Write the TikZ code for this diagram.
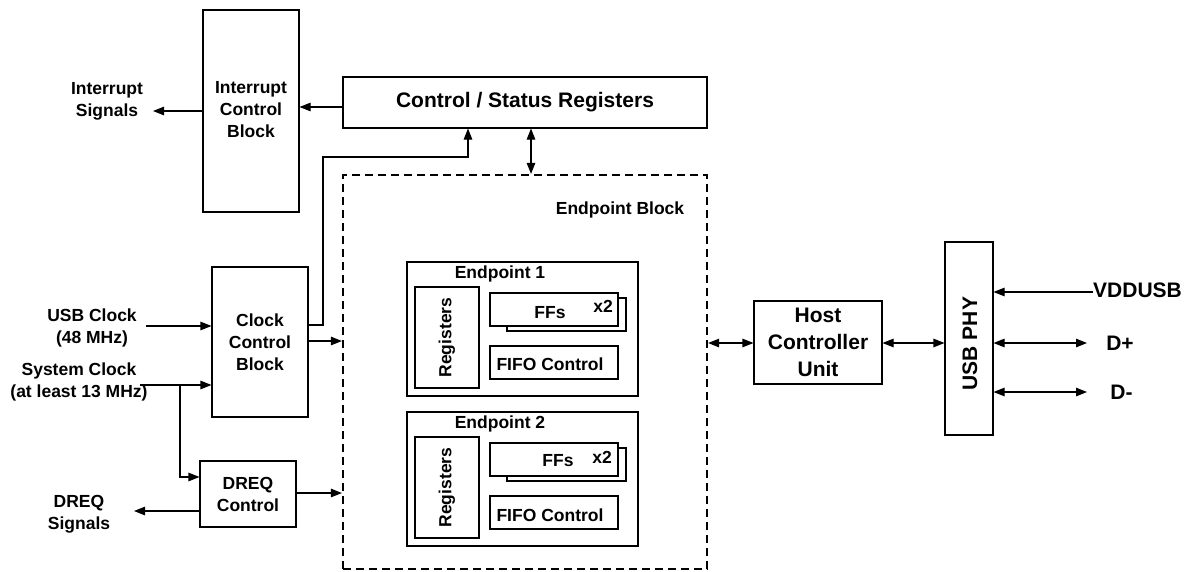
\documentclass[tikz,border=0pt]{standalone}
\usepackage{fontspec}
\setmainfont{Liberation Sans}
\usetikzlibrary{arrows.meta}
\begin{document}
\begin{tikzpicture}[x=1pt,y=-1pt,
  box/.style={draw, line width=1.1pt, inner sep=0pt, align=center},
  lbl/.style={font=\fontsize{17.5}{22}\selectfont\bfseries, align=center, inner sep=0pt},
  big/.style={font=\fontsize{21}{27}\selectfont\bfseries, align=center, inner sep=0pt},
  tip/.tip={Triangle[length=11pt,width=8.5pt]},
  arr/.style={line width=1.1pt, -tip},
  darr/.style={line width=1.1pt, tip-tip},
  ln/.style={line width=1.1pt}]
\useasboundingbox (0,0) rectangle (1188,571);

% boxes
\node[box, minimum width=96pt, minimum height=202pt] (icb) at (251,111) {};
\node[lbl] (icbt) at (251,110) {Interrupt\\Control\\Block};
\node[box, minimum width=364pt, minimum height=51pt] (csr) at (525,102.5) {};
\node[big] (csrt) at (525,102) {Control / Status Registers};
\node[box, dashed, line width=2.2pt, dash pattern=on 8pt off 5pt, minimum width=364pt, minimum height=394pt] (ep) at (525,372) {};
\node[lbl] (ept) at (620,210) {Endpoint Block};

% endpoint 1
\node[box, minimum width=231pt, minimum height=134pt] (ep1) at (522.5,329) {};
\node[lbl] (ep1t) at (500,274) {Endpoint 1};
\node[box, minimum width=64pt, minimum height=101pt] (reg1) at (447,337.5) {};
\node[lbl, rotate=90] (reg1t) at (447,337.5) {Registers};
\node[box, minimum width=119pt, minimum height=33pt] (ffb1) at (566.5,314.5) {};
\node[box, fill=white, minimum width=128pt, minimum height=33pt] (ff1) at (554,309.5) {};
\node[lbl] (ff1t) at (550,313) {FFs};
\node[lbl] (x21) at (603,306) {x2};
\node[box, minimum width=128pt, minimum height=33pt] (fifo1) at (554,362.5) {};
\node[lbl] (fifo1t) at (550,364) {FIFO Control};

% endpoint 2
\node[box, minimum width=231pt, minimum height=134pt] (ep2) at (522.5,479) {};
\node[lbl] (ep2t) at (500,424) {Endpoint 2};
\node[box, minimum width=64pt, minimum height=101pt] (reg2) at (447,487.5) {};
\node[lbl, rotate=90] (reg2t) at (447,487.5) {Registers};
\node[box, minimum width=119pt, minimum height=33pt] (ffb2) at (566.5,464.5) {};
\node[box, fill=white, minimum width=128pt, minimum height=33pt] (ff2) at (554,459.5) {};
\node[lbl] (ff2t) at (558,461) {FFs};
\node[lbl] (x22) at (602,457) {x2};
\node[box, minimum width=128pt, minimum height=33pt] (fifo2) at (554,512.5) {};
\node[lbl] (fifo2t) at (550,515) {FIFO Control};

% left blocks
\node[box, minimum width=96pt, minimum height=150pt] (ccb) at (260,342) {};
\node[lbl] (ccbt) at (260,342) {Clock\\Control\\Block};
\node[box, minimum width=96pt, minimum height=66pt] (dreq) at (248,494) {};
\node[lbl] (dreqt) at (248,494) {DREQ\\Control};

% right blocks
\node[box, minimum width=128pt, minimum height=83pt] (hcu) at (818,342.5) {};
\node[big] (hcut) at (818,342) {Host\\Controller\\Unit};
\node[box, minimum width=48pt, minimum height=193pt] (phy) at (969,338.5) {};
\node[big, rotate=90] (phyt) at (970,343.5) {USB PHY};

% external labels
\node[lbl] (intsig) at (107,101) {Interrupt\\Signals};
\node[lbl] (usbclk) at (92,328) {USB Clock\\(48 MHz)};
\node[lbl] (sysclk) at (79,382) {System Clock\\(at least 13 MHz)};
\node[lbl] (dreqsig) at (79,514) {DREQ\\Signals};
\node[big, anchor=west] (vdd) at (1093,290) {VDDUSB};
\node[big] (dp) at (1120,343) {D+};
\node[big] (dm) at (1121.5,392) {D-};

\coordinate (intend) at (153,111);
\coordinate (usbstart) at (146,326);
\coordinate (sysstart) at (140,385);
\coordinate (branch) at (180,385);
\coordinate (dreqend) at (134,511);
\coordinate (dpend) at (1087,343);
\coordinate (dmend) at (1087,392);

% connectors
\draw[arr] (icb.west |- intend) -- (intend);
\draw[arr] (csr.west |- 0,107) -- (icb.east |- 0,107);
\draw[arr] (ccb.east |- 0,325) -- (323,325) -- (323,157) -- (468,157) -- (csr.south -| 468,0);
\draw[darr] (csr.south -| 531,0) -- (ep.north -| 531,0);
\draw[arr] (usbstart) -- (ccb.west |- usbstart);
\draw[arr] (sysstart) -- (ccb.west |- sysstart);
\draw[arr] (branch) -- (branch |- 0,477) -- (dreq.west |- 0,477);
\draw[arr] (dreq.west |- dreqend) -- (dreqend);
\draw[arr] (dreq.east |- 0,493) -- (ep.west |- 0,493);
\draw[arr] (ccb.east |- 0,341) -- (ep.west |- 0,341);
\draw[darr] (ep.east |- 0,343) -- (hcu.west |- 0,343);
\draw[darr] (hcu.east |- 0,343) -- (phy.west |- 0,343);
\draw[arr] (vdd.west |- 0,292) -- (phy.east |- 0,292);
\draw[darr] (phy.east |- dpend) -- (dpend);
\draw[darr] (phy.east |- dmend) -- (dmend);
\end{tikzpicture}
\end{document}
